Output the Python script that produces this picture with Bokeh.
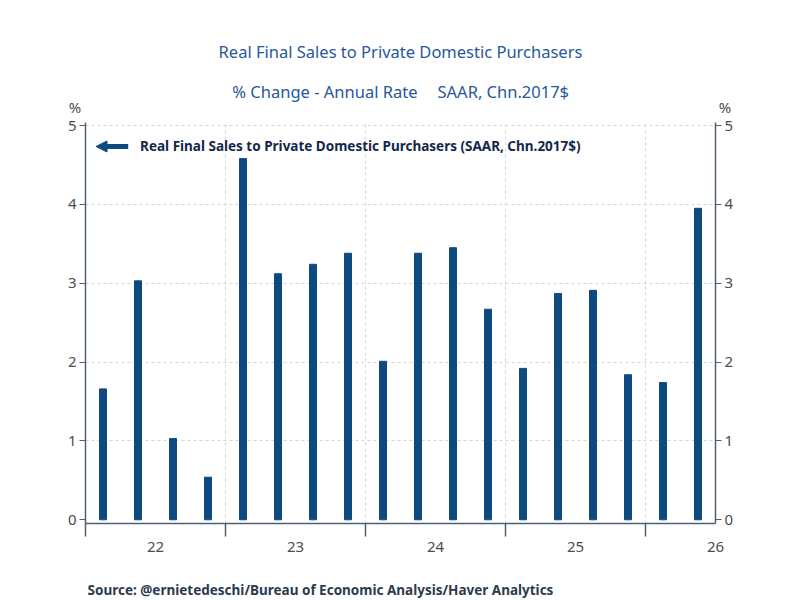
from bokeh.plotting import figure
from bokeh.models import (Range1d, LinearAxis, FixedTicker, Label, Arrow, NormalHead,
                          ColumnDataSource)
from bokeh.layouts import column
from bokeh.embed import file_html
from bokeh.resources import INLINE

# ---- data ----
quarters = ["2022Q1", "2022Q2", "2022Q3", "2022Q4",
            "2023Q1", "2023Q2", "2023Q3", "2023Q4",
            "2024Q1", "2024Q2", "2024Q3", "2024Q4",
            "2025Q1", "2025Q2", "2025Q3", "2025Q4",
            "2026Q1", "2026Q2"]
values = [1.66, 3.03, 1.03, 0.54,
          4.58, 3.12, 3.24, 3.38,
          2.01, 3.38, 3.45, 2.67,
          1.92, 2.87, 2.91, 1.84,
          1.74, 3.95]
year_labels = ["22", "23", "24", "25", "26"]
y_ticks = [0, 1, 2, 3, 4, 5]

title1 = "Real Final Sales to Private Domestic Purchasers"
title2_left = "% Change - Annual Rate"
title2_right = "SAAR, Chn.2017$"
legend_text = "Real Final Sales to Private Domestic Purchasers (SAAR, Chn.2017$)"
source_text = "Source:  @ernietedeschi/Bureau of Economic Analysis/Haver Analytics"

# ---- styles ----
BAR = "#0e4a80"
TITLE_C = "#27589a"
AXIS_C = "#4f6176"
TICK_C = "#4d4d4d"
LEG_C = "#14284a"
SRC_C = "#2b3b4e"
FONT = "Noto Sans"
W = 800


def text_panel(h):
    f = figure(width=W, height=h, output_backend="svg", toolbar_location=None,
               x_range=Range1d(0, W), y_range=Range1d(h, 0),
               min_border=0, x_axis_location=None, y_axis_location=None)
    f.frame_align = False
    f.outline_line_color = None
    f.xgrid.visible = False
    f.ygrid.visible = False
    return f


# ---- header ----
HEAD_H = 115
head = text_panel(HEAD_H)
head.add_layout(Label(x=400, y=51, text=title1, text_align="center", text_baseline="middle",
                      text_font=FONT, text_font_size="16.5px", text_color=TITLE_C))
head.add_layout(Label(x=417, y=91, text=title2_left, text_align="right", text_baseline="middle",
                      text_font=FONT, text_font_size="16.5px", text_color=TITLE_C))
head.add_layout(Label(x=437, y=91, text=title2_right, text_align="left", text_baseline="middle",
                      text_font=FONT, text_font_size="16.5px", text_color=TITLE_C))
head.add_layout(Label(x=74.5, y=106, text="%", text_align="center", text_baseline="middle",
                      text_font=FONT, text_font_size="15px", text_color=TICK_C))
head.add_layout(Label(x=724.5, y=106, text="%", text_align="center", text_baseline="middle",
                      text_font=FONT, text_font_size="15px", text_color=TICK_C))

# ---- main chart ----
xpos = [i + 0.5 for i in range(len(values))]
src = ColumnDataSource(dict(x=xpos, top=values, q=quarters))

p = figure(width=W, height=460, output_backend="svg", toolbar_location=None,
           x_range=Range1d(0, len(values)), y_range=Range1d(-0.047, 5.038),
           min_border_left=85, min_border_right=85, min_border_top=7,
           min_border_bottom=52, x_axis_location=None, y_axis_location=None)
p.outline_line_color = None

p.vbar(x="x", top="top", bottom=0, width=0.2, color=BAR, source=src)

year_starts = [i for i, q in enumerate(quarters) if q.endswith("Q1")]
p.xgrid.ticker = FixedTicker(ticks=year_starts[1:])
p.ygrid.ticker = FixedTicker(ticks=y_ticks[1:])
for g in (p.xgrid, p.ygrid):
    g.grid_line_color = "#d6d6d6"
    g.grid_line_dash = "3 3"
    g.grid_line_width = 1

label_pos = [s + 2 for s in year_starts]
xa = LinearAxis(ticker=FixedTicker(ticks=label_pos, minor_ticks=year_starts),
                major_label_overrides={pos: lab for pos, lab in zip(label_pos, year_labels)})
xa.axis_line_color = AXIS_C
xa.axis_line_width = 1.5
xa.major_tick_out = 0
xa.major_tick_in = 0
xa.minor_tick_out = 13
xa.minor_tick_in = 0
xa.minor_tick_line_color = AXIS_C
xa.minor_tick_line_width = 1.5
xa.major_label_standoff = 5
xa.major_label_text_font = FONT
xa.major_label_text_font_size = "15px"
xa.major_label_text_color = TICK_C
p.add_layout(xa, "below")

for side in ("left", "right"):
    ya = LinearAxis(ticker=FixedTicker(ticks=y_ticks))
    ya.axis_line_color = AXIS_C
    ya.axis_line_width = 1.5
    ya.major_tick_out = 6
    ya.major_tick_in = 0
    ya.major_tick_line_color = AXIS_C
    ya.major_tick_line_width = 1.2
    ya.minor_tick_line_color = None
    ya.major_label_standoff = 3
    ya.major_label_text_font = FONT
    ya.major_label_text_font_size = "15px"
    ya.major_label_text_color = TICK_C
    p.add_layout(ya, side)

# legend (inside the frame)
p.add_layout(Arrow(end=NormalHead(size=11, fill_color=BAR, line_color=BAR),
                   x_start=1.22, y_start=4.734, x_end=0.30, y_end=4.734,
                   line_color=BAR, line_width=5))
p.add_layout(Label(x=1.56, y=4.734, text=legend_text, text_align="left", text_baseline="middle",
                   text_font=FONT, text_font_size="13.5px", text_font_style="bold",
                   text_color=LEG_C))

# ---- footer ----
FOOT_H = 25
foot = text_panel(FOOT_H)
foot.add_layout(Label(x=87, y=14, text=source_text, text_align="left", text_baseline="middle",
                      text_font=FONT, text_font_size="13.5px", text_font_style="bold",
                      text_color=SRC_C))

layout = column(head, p, foot, spacing=0)
open("out.html", "w").write(file_html(layout, INLINE))
